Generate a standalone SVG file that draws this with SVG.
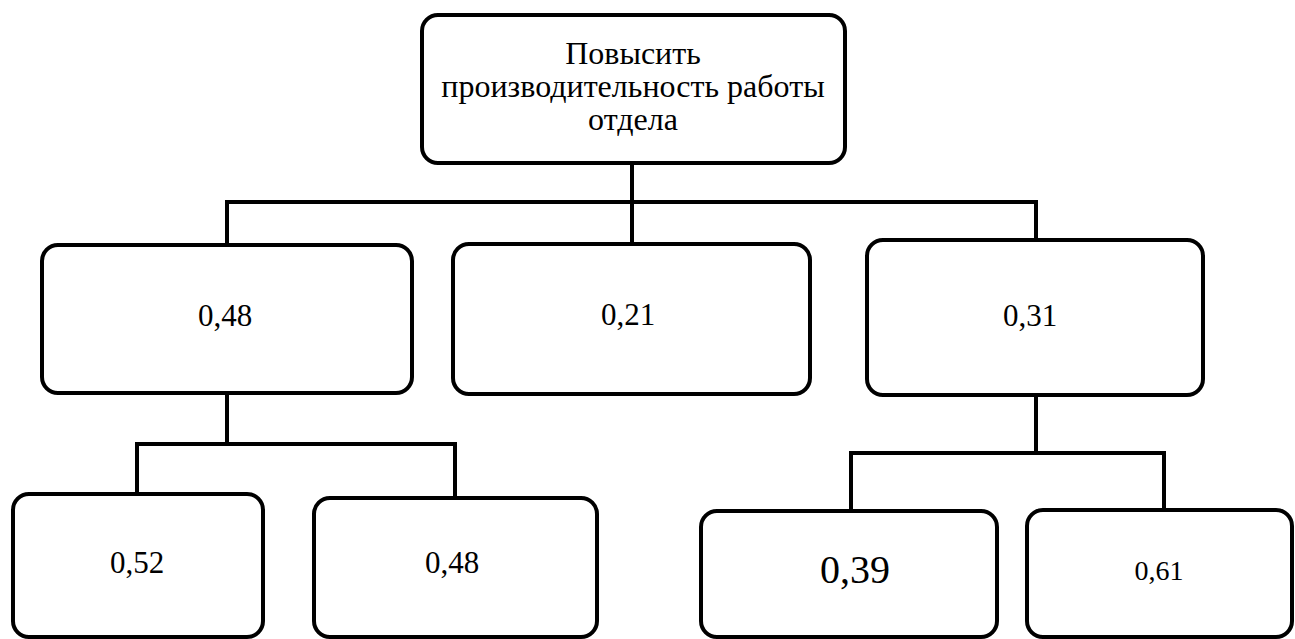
<svg xmlns="http://www.w3.org/2000/svg" width="1295" height="639" viewBox="0 0 1295 639">
<style>
.box{fill:#fff;stroke:#000;stroke-width:4}
.ln{fill:none;stroke:#000;stroke-width:4;stroke-linecap:square}
.t{font-family:'Liberation Serif','Times New Roman',serif;fill:#000;text-anchor:middle;font-size:31px}
.h{font-size:32px}
</style>
<rect width="1295" height="639" fill="#fff"/>
<g id="connectors">
<path class="ln" d="M632 163V202M227 202H1036M227 202V245M632 202V244M1036 202V240"/>
<path class="ln" d="M227 393V444M137 444H455M137 444V494M455 444V498"/>
<path class="ln" d="M1036 395V453M851 453H1164M851 453V511M1164 453V510"/>
</g>
<g id="root">
<rect class="box" x="422" y="15" width="423" height="148" rx="16"/>
<text class="t h" x="633" y="64">Повысить</text>
<text class="t h" x="633" y="97">производительность работы</text>
<text class="t h" x="633" y="130">отдела</text>
</g>
<g id="n1">
<rect class="box" x="42" y="245" width="370" height="148" rx="16"/>
<text class="t" x="225" y="326">0,48</text>
</g>
<g id="n2">
<rect class="box" x="453" y="244" width="357" height="150" rx="16"/>
<text class="t" x="628" y="325">0,21</text>
</g>
<g id="n3">
<rect class="box" x="867" y="240" width="336" height="155" rx="16"/>
<text class="t" x="1030" y="326">0,31</text>
</g>
<g id="n11">
<rect class="box" x="13" y="494" width="250" height="143" rx="16"/>
<text class="t" x="137" y="573">0,52</text>
</g>
<g id="n12">
<rect class="box" x="314" y="498" width="283" height="139" rx="16"/>
<text class="t" x="452" y="573">0,48</text>
</g>
<g id="n31">
<rect class="box" x="701" y="511" width="296" height="126" rx="16"/>
<text class="t" x="855" y="583" style="font-size:40px">0,39</text>
</g>
<g id="n32">
<rect class="box" x="1027" y="510" width="265" height="127" rx="16"/>
<text class="t" x="1159" y="580" style="font-size:28px">0,61</text>
</g>
</svg>
